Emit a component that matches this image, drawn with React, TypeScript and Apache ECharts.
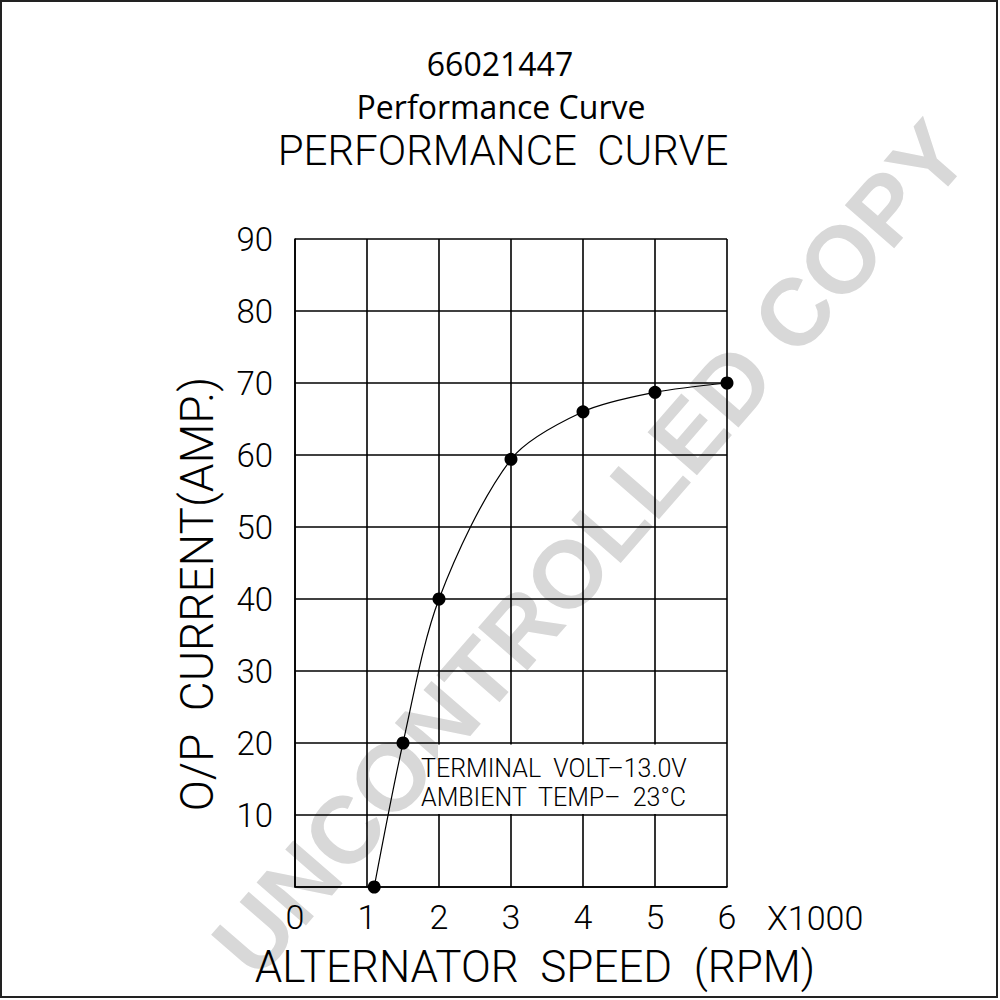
import React, { useEffect, useRef } from "react";
import * as echarts from "echarts";

const speeds = [1.1, 1.5, 2, 3, 4, 5, 6];
const currents = [0, 20, 40, 59.4, 66, 68.7, 70];
const xTicks = [0, 1, 2, 3, 4, 5, 6];
const yTicks = [10, 20, 30, 40, 50, 60, 70, 80, 90];
const titleLines = ["66021447", "Performance Curve", "PERFORMANCE  CURVE"];
const xTitle = "ALTERNATOR  SPEED  (RPM)";
const yTitle = "O/P  CURRENT(AMP.)";
const xUnit = "X1000";
const notes = ["TERMINAL  VOLT\u201313.0V", "AMBIENT  TEMP\u2013  23\u00b0C"];
const watermark = "UNCONTROLLED COPY";

const CAD = "Roboto, 'DejaVu Sans', sans-serif";
const HUMAN = "'Open Sans', 'Noto Sans', sans-serif";

export default function App() {
  const ref = useRef<HTMLDivElement>(null);
  useEffect(() => {
    if (!ref.current) return;
    const chart = echarts.init(ref.current, undefined, { renderer: "svg" });
    const option = {
      animation: false,
      backgroundColor: "#ffffff",
      grid: { left: 295, right: 273, top: 239, bottom: 113, containLabel: false },
      xAxis: {
        type: "value",
        min: 0,
        max: 6,
        interval: 1,
        axisLine: { show: true, onZero: false, lineStyle: { color: "#000", width: 1.6 } },
        axisTick: { show: false },
        splitLine: { show: true, lineStyle: { color: "#000", width: 1.6 } },
        axisLabel: {
          margin: 13,
          color: "#000",
          fontFamily: CAD,
          fontWeight: 300,
          fontSize: 34,
          formatter: (v: number) => (xTicks.includes(v) ? String(v) : ""),
        },
      },
      yAxis: {
        type: "value",
        min: 0,
        max: 90,
        interval: 10,
        axisLine: { show: true, lineStyle: { color: "#000", width: 1.6 } },
        axisTick: { show: false },
        splitLine: { show: true, lineStyle: { color: "#000", width: 1.6 } },
        axisLabel: {
          margin: 22,
          color: "#000",
          fontFamily: CAD,
          fontWeight: 300,
          fontSize: 33,
          padding: [8, 0, 0, 0],
          formatter: (v: number) => (yTicks.includes(v) ? String(v) : ""),
        },
      },
      series: [
        {
          type: "line",
          data: speeds.map((s, i) => [s, currents[i]]),
          smooth: 0.3,
          symbol: "circle",
          symbolSize: 13,
          itemStyle: { color: "#000" },
          lineStyle: { color: "#000", width: 1.2 },
          z: 4,
        },
      ],
      graphic: [
        {
          type: "rect",
          z: -20,
          shape: { x: 1, y: 1, width: 996, height: 996 },
          style: { fill: "#fff", stroke: "#222", lineWidth: 2 },
        },
        {
          type: "text",
          z: -10,
          x: 590,
          y: 548,
          rotation: (49 * Math.PI) / 180,
          style: {
            text: watermark,
            fill: "#d8d8d8",
            fontSize: 95,
            fontWeight: "bold",
            fontFamily: "'Liberation Sans', Arial, sans-serif",
            align: "center",
            verticalAlign: "middle",
          },
        },
        {
          type: "rect",
          z: 1,
          shape: { x: 438, y: 744.5, width: 288, height: 69.5 },
          style: { fill: "#fff" },
        },
        {
          type: "text",
          z: 5,
          x: 500,
          y: 63,
          style: { text: titleLines[0], fill: "#000", fontSize: 32, fontFamily: HUMAN, align: "center", verticalAlign: "middle" },
        },
        {
          type: "text",
          z: 5,
          x: 501,
          y: 106,
          style: { text: titleLines[1], fill: "#000", fontSize: 32, fontFamily: HUMAN, align: "center", verticalAlign: "middle" },
        },
        {
          type: "text",
          z: 5,
          x: 503,
          y: 150,
          style: { text: titleLines[2], fill: "#000", fontSize: 42, fontWeight: 300, fontFamily: CAD, align: "center", verticalAlign: "middle" },
        },
        {
          type: "text",
          z: 5,
          x: 535,
          y: 967,
          style: { text: xTitle, fill: "#000", fontSize: 44, fontWeight: 300, fontFamily: CAD, align: "center", verticalAlign: "middle" },
        },
        {
          type: "text",
          z: 5,
          x: 197,
          y: 594,
          rotation: Math.PI / 2,
          style: { text: yTitle, fill: "#000", fontSize: 46, fontWeight: 300, fontFamily: CAD, align: "center", verticalAlign: "middle" },
        },
        {
          type: "text",
          z: 5,
          x: 767,
          y: 918,
          style: { text: xUnit, fill: "#000", fontSize: 34, fontWeight: 300, fontFamily: CAD, align: "left", verticalAlign: "middle" },
        },
        {
          type: "text",
          z: 5,
          x: 421,
          y: 768,
          style: { text: notes[0], fill: "#000", fontSize: 25, fontWeight: 300, fontFamily: CAD, align: "left", verticalAlign: "middle" },
        },
        {
          type: "text",
          z: 5,
          x: 421,
          y: 797,
          style: { text: notes[1], fill: "#000", fontSize: 25, fontWeight: 300, fontFamily: CAD, align: "left", verticalAlign: "middle" },
        },
      ],
    };
    chart.setOption(option);
    return () => chart.dispose();
  }, []);
  return (
    <div
      ref={ref}
      style={{ position: "fixed", left: 0, top: 0, width: 1000, height: 1000, background: "#fff" }}
    />
  );
}
